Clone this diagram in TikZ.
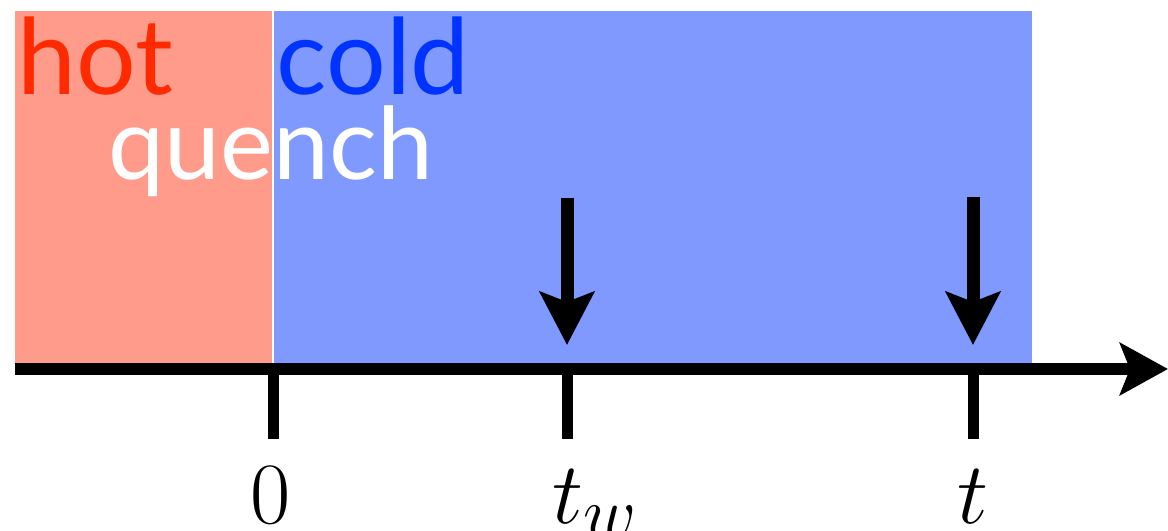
\documentclass[tikz,border=0pt]{standalone}
\usepackage{fontspec}
\newfontfamily\wordfont{Lato}
\usetikzlibrary{arrows.meta}
\definecolor{hotfill}{HTML}{FF9B8A}
\definecolor{coldfill}{HTML}{8099FF}
\definecolor{hottext}{HTML}{FF2A00}
\definecolor{coldtext}{HTML}{0033FF}

\begin{document}
\begin{tikzpicture}[
    word/.style={font=\wordfont\fontsize{30}{36}\selectfont, inner sep=0pt, anchor=base west},
    timelab/.style={font=\fontsize{28.7}{34}\selectfont, inner sep=0pt, anchor=base},
    tickline/.style={black, line width=0.11cm},
    probe/.style={black, line width=0.13cm,
        -{Stealth[length=0.53cm, width=0.54cm, inset=0.10cm]}},
]
\useasboundingbox (0,0) rectangle (11.68,5.31);

% ---------------------------------------------------------------- regions
\fill[hotfill]  (0.15,1.62) rectangle (2.72,5.20);
\fill[coldfill] (2.74,1.62) rectangle (10.32,5.20);

\node[word, text=hottext]  (hot)    at (0.17,4.36) {hot};
\node[word, text=coldtext] (cold)   at (2.76,4.36) {cold};
\node[word, text=white, font=\wordfont\fontsize{28.5}{34}\selectfont]
    (quench) at (1.08,3.51) {quench};

% ---------------------------------------------------------------- axis
\coordinate (start) at (0.15,1.62);
\coordinate (end)   at (11.68,1.62);
\draw[black, line width=0.12cm,
    -{Stealth[length=0.48cm, width=0.52cm, inset=0.10cm]}] (start) -- (end);

\foreach \x/\name in {2.73/zero, 5.67/tw, 9.73/tt}{
    \coordinate (\name) at (\x,1.62);
    \draw[tickline] (\name) -- ++(0,-0.70);
}
\node[timelab] (l0) at (2.71,0.07) {$0$};
\node[timelab, anchor=base west] (ltw) at (5.52,0.07) {$t_w$};
\node[timelab] (lt) at (9.73,0.07) {$t$};

% ---------------------------------------------------------------- probes
\coordinate (tw top) at (5.67,3.33);
\coordinate (tw tip) at (5.67,1.86);
\coordinate (tt top) at (9.73,3.34);
\coordinate (tt tip) at (9.73,1.86);
\draw[probe] (tw top) -- (tw tip);
\draw[probe] (tt top) -- (tt tip);

\end{tikzpicture}
\end{document}
